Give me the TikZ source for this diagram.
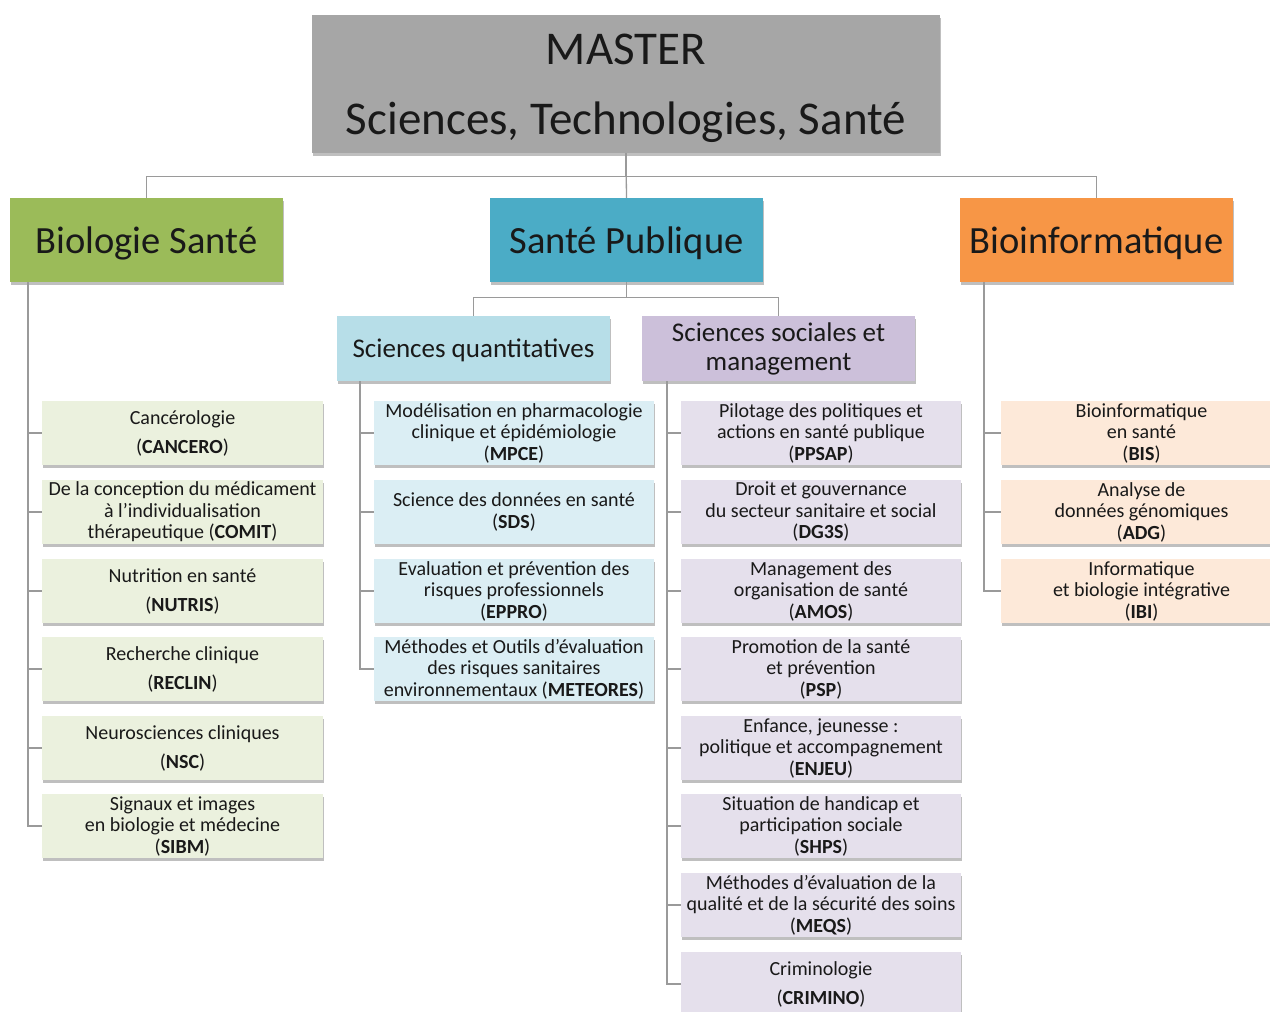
\documentclass[tikz,border=0pt]{standalone}
\usepackage{fontspec}
\setmainfont{Carlito}
\usepackage{xcolor}
\usetikzlibrary{shadows}

\definecolor{mastergray}{HTML}{A6A6A6}
\definecolor{biogreen}{HTML}{9BBB59}
\definecolor{spteal}{HTML}{4BACC6}
\definecolor{binforange}{HTML}{F79646}
\definecolor{sqblue}{HTML}{B7DEE8}
\definecolor{ssmlilac}{HTML}{CCC0DA}
\definecolor{biolight}{HTML}{EBF1DE}
\definecolor{sqlight}{HTML}{DBEEF4}
\definecolor{ssmlight}{HTML}{E5E0EC}
\definecolor{binflight}{HTML}{FDE9D9}
\definecolor{linkgray}{HTML}{9A9A9A}

\tikzset{
  box/.style={rectangle, inner sep=0pt, align=center, text=black!90,
              drop shadow={shadow xshift=1.2pt, shadow yshift=-2.5pt,
                           fill=black, opacity=0.25}},
  headbox/.style={box, minimum width=273pt, minimum height=84pt,
                  text depth=0pt, font=\fontsize{38.5}{44}\selectfont},
  subbox/.style={box, minimum width=273pt, minimum height=65pt,
                 font=\fontsize{27}{29}\selectfont},
  prog/.style={box, minimum width=281pt, minimum height=64pt,
               font=\fontsize{20}{21.5}\selectfont},
  link/.style={draw=linkgray, line width=1.3pt}
}

\begin{document}
\begin{tikzpicture}[x=1pt,y=-1pt]
\useasboundingbox (0,0) rectangle (1270,1012);
\clip (0,0) rectangle (1270,1012);

% top box
\node[box, fill=mastergray, minimum width=628pt, minimum height=138pt,
      text depth=0pt, font=\fontsize{47}{56}\selectfont] (master) at (626,84)
      {MASTER\\[14pt]Sciences, Technologies, Santé};

% the three fields
\node[headbox, fill=biogreen] (bio) at (146.5,240) {Biologie Santé};
\node[headbox, fill=spteal] (sp) at (626.5,240) {Santé Publique};
\node[headbox, fill=binforange] (binf) at (1096.5,240) {Bioinformatique};

\node[subbox, fill=sqblue, text depth=0pt] (sq) at (473.5,348.5) {Sciences quantitatives};
\node[subbox, fill=ssmlilac] (ssm) at (778.5,348.5)
      {Sciences sociales et\\management};

% Biologie Sante
\tikzstyle{every node}=[prog, fill=biolight]
\node (b1) at (182.5,433) {Cancérologie\\[7.5pt](\textbf{CANCERO})};
\node (b2) at (182.5,512) {De la conception du médicament\\à l’individualisation\\thérapeutique (\textbf{COMIT})};
\node (b3) at (182.5,591) {Nutrition en santé\\[7.5pt](\textbf{NUTRIS})};
\node (b4) at (182.5,669) {Recherche clinique\\[7.5pt](\textbf{RECLIN})};
\node (b5) at (182.5,748) {Neurosciences cliniques\\[7.5pt](\textbf{NSC})};
\node (b6) at (182.5,826) {Signaux et images\\en biologie et médecine\\(\textbf{SIBM})};

% Sciences quantitatives
\tikzstyle{every node}=[prog, minimum width=280pt, fill=sqlight]
\node (q1) at (514,433) {Modélisation en pharmacologie\\clinique et épidémiologie\\(\textbf{MPCE})};
\node (q2) at (514,512) {Science des données en santé\\(\textbf{SDS})};
\node (q3) at (514,591) {Evaluation et prévention des\\risques professionnels\\(\textbf{EPPRO})};
\node (q4) at (514,669) {Méthodes et Outils d’évaluation\\des risques sanitaires\\environnementaux (\textbf{METEORES})};

% Sciences sociales et management
\tikzstyle{every node}=[prog, minimum width=280pt, fill=ssmlight]
\node (s1) at (821,433) {Pilotage des politiques et\\actions en santé publique\\(\textbf{PPSAP})};
\node (s2) at (821,512) {Droit et gouvernance\\du secteur sanitaire et social\\(\textbf{DG3S})};
\node (s3) at (821,591) {Management des\\organisation de santé\\(\textbf{AMOS})};
\node (s4) at (821,669) {Promotion de la santé\\et prévention\\(\textbf{PSP})};
\node (s5) at (821,748) {Enfance, jeunesse :\\politique et accompagnement\\(\textbf{ENJEU})};
\node (s6) at (821,826) {Situation de handicap et\\participation sociale\\(\textbf{SHPS})};
\node (s7) at (821,905) {Méthodes d’évaluation de la\\qualité et de la sécurité des soins\\(\textbf{MEQS})};
\node (s8) at (821,984) {Criminologie\\[7.5pt](\textbf{CRIMINO})};

% Bioinformatique
\tikzstyle{every node}=[prog, fill=binflight]
\node (i1) at (1141.5,433) {Bioinformatique\\en santé\\(\textbf{BIS})};
\node (i2) at (1141.5,512) {Analyse de\\données génomiques\\(\textbf{ADG})};
\node (i3) at (1141.5,591) {Informatique\\et biologie intégrative\\(\textbf{IBI})};

% trunks
\coordinate (bt) at (28,282);
\coordinate (qt) at (360,381);
\coordinate (st) at (667,381);
\coordinate (it) at (984,282);

% links
\draw[link] (master.south) -- ++(0,23) -| (bio.north);
\draw[link] (master.south) -- ++(0,23) -| (binf.north);
\draw[link] (master.south) -- (sp.north);
\draw[link] (sp.south) -- ++(0,15) -| (sq.north);
\draw[link] (sp.south) -- ++(0,15) -| (ssm.north);

\draw[link] (bt) |- (b6.west);
\foreach \i in {1,...,5}{
	\draw[link] (b\i.west) -- (b\i.west -| bt);
	}
\draw[link] (qt) |- (q4.west);
\foreach \i in {1,2,3}{
	\draw[link] (q\i.west) -- (q\i.west -| qt);
	}
\draw[link] (st) |- (s8.west);
\foreach \i in {1,...,7}{
	\draw[link] (s\i.west) -- (s\i.west -| st);
	}
\draw[link] (it) |- (i3.west);
\foreach \i in {1,2}{
	\draw[link] (i\i.west) -- (i\i.west -| it);
	}
\end{tikzpicture}
\end{document}
